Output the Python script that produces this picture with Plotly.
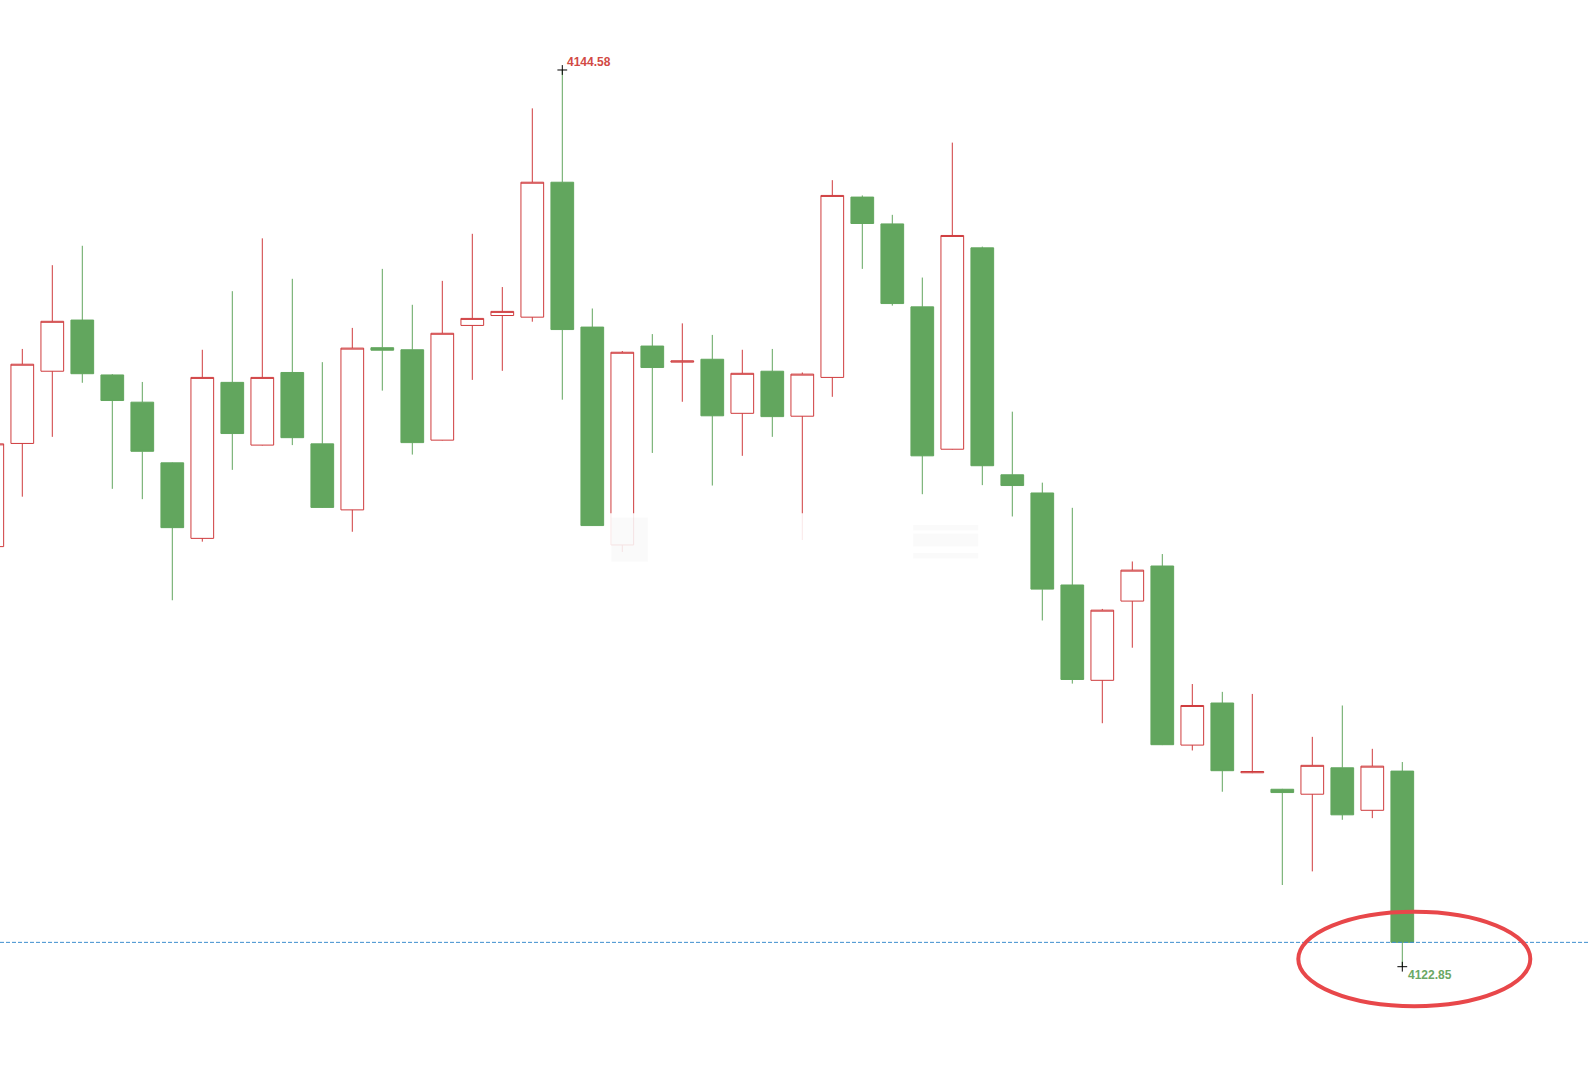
import plotly.graph_objects as go

# ---- data ----
bars = list(range(48))
opens = [4133.03, 4135.53, 4137.28, 4138.52, 4137.19, 4136.53, 4135.06, 4133.23, 4137.01, 4135.49,
         4137.25, 4135.52, 4133.92, 4137.85, 4137.80, 4135.61, 4138.39, 4138.63, 4138.59, 4141.86,
         4138.35, 4133.07, 4137.89, 4137.50, 4137.57, 4136.26, 4137.28, 4136.19, 4137.13, 4141.50,
         4140.85, 4138.84, 4135.39, 4140.27, 4134.77, 4134.33, 4132.10, 4129.79, 4131.71, 4132.56,
         4128.22, 4129.24, 4127.55, 4127.15, 4127.03, 4127.67, 4126.64, 4127.59]
highs = [4135.70, 4137.82, 4139.85, 4140.32, 4137.21, 4137.02, 4135.07, 4137.80, 4139.22, 4140.50,
         4139.52, 4137.50, 4138.33, 4139.76, 4138.89, 4139.47, 4140.61, 4139.32, 4143.65, 4144.58,
         4138.80, 4137.77, 4138.18, 4138.44, 4138.16, 4137.80, 4137.82, 4137.25, 4141.91, 4141.54,
         4141.07, 4139.55, 4142.82, 4140.30, 4136.30, 4134.58, 4133.97, 4131.52, 4132.67, 4132.85,
         4129.70, 4129.51, 4129.46, 4127.16, 4128.42, 4129.18, 4128.13, 4127.81]
lows = [4132.70, 4134.24, 4135.69, 4137.00, 4134.43, 4134.18, 4131.73, 4133.15, 4134.89, 4135.48,
        4135.49, 4133.97, 4133.39, 4136.81, 4135.26, 4135.60, 4137.07, 4137.29, 4138.48, 4136.59,
        4133.53, 4132.90, 4135.30, 4136.54, 4134.51, 4135.23, 4135.69, 4133.19, 4136.66, 4139.76,
        4138.87, 4134.30, 4135.38, 4134.52, 4133.76, 4131.24, 4129.71, 4128.75, 4130.58, 4128.22,
        4128.09, 4127.09, 4127.54, 4124.83, 4125.16, 4126.41, 4126.45, 4122.85]
closes = [4135.52, 4137.45, 4138.49, 4137.22, 4136.57, 4135.34, 4133.49, 4137.13, 4135.77, 4137.13,
          4135.67, 4133.98, 4137.84, 4137.79, 4135.55, 4138.20, 4138.56, 4138.73, 4141.86, 4138.29,
          4133.54, 4137.74, 4137.37, 4137.53, 4136.20, 4137.23, 4136.18, 4137.21, 4141.54, 4140.86,
          4138.92, 4135.23, 4140.57, 4134.99, 4134.51, 4132.00, 4129.81, 4131.49, 4132.46, 4128.23,
          4129.18, 4127.60, 4127.58, 4127.07, 4127.73, 4126.53, 4127.71, 4123.44]

RED = "#cf3b3d"
GREEN = "#62a65e"

hi_idx = max(range(len(highs)), key=lambda i: highs[i])
lo_idx = min(range(len(lows)), key=lambda i: lows[i])
last_close = closes[-1]

fig = go.Figure()
fig.add_trace(go.Candlestick(
    x=bars, open=opens, high=highs, low=lows, close=closes,
    increasing=dict(line=dict(color=RED, width=1), fillcolor="white"),
    decreasing=dict(line=dict(color=GREEN, width=1), fillcolor=GREEN),
    whiskerwidth=0, showlegend=False, hoverinfo="skip",
))

# extreme markers
fig.add_trace(go.Scatter(
    x=[bars[hi_idx], bars[lo_idx]], y=[highs[hi_idx], lows[lo_idx]],
    mode="markers",
    marker=dict(symbol="cross-thin", size=7, line=dict(color="black", width=1)),
    showlegend=False, hoverinfo="skip",
))

fig.add_annotation(x=bars[hi_idx], y=highs[hi_idx], text=f"{highs[hi_idx]:.2f}",
                   showarrow=False, xanchor="left", yanchor="middle", xshift=3, yshift=8,
                   font=dict(family="Liberation Sans, Arial", size=12, color="#d24a44", weight="bold"))
fig.add_annotation(x=bars[lo_idx], y=lows[lo_idx], text=f"{lows[lo_idx]:.2f}",
                   showarrow=False, xanchor="left", yanchor="middle", xshift=4, yshift=-8,
                   font=dict(family="Liberation Sans, Arial", size=12, color="#6aa865", weight="bold"))

# blurred watermark area (fades the wicks passing through it)
fig.add_shape(type="rect", xref="paper", yref="paper", x0=0.381, x1=0.616, y0=0.479, y1=0.524,
              line=dict(width=0), fillcolor="rgba(255,255,255,0.88)", layer="above")
fig.add_shape(type="rect", xref="paper", yref="paper", x0=0.385, x1=0.408, y0=0.479, y1=0.52,
              line=dict(width=0), fillcolor="rgba(0,0,0,0.02)", layer="above")
for y0, y1 in [(0.508, 0.513), (0.493, 0.505), (0.482, 0.487)]:
    fig.add_shape(type="rect", xref="paper", yref="paper", x0=0.575, x1=0.616, y0=y0, y1=y1,
                  line=dict(width=0), fillcolor="rgba(0,0,0,0.02)", layer="above")

# dashed line at last close
fig.add_shape(type="line", xref="paper", x0=0, x1=1, yref="y", y0=last_close, y1=last_close,
              line=dict(color="#3f8fcf", width=1, dash="4px,2px"))

# red ellipse around the low
fig.add_shape(type="circle", xref="x", yref="y",
              xsizemode="pixel", ysizemode="pixel",
              xanchor=bars[lo_idx], yanchor=lows[lo_idx],
              x0=-104, x1=128, y0=-39.5, y1=55,
              line=dict(color="#e8474a", width=4))

fig.update_layout(
    width=1588, height=1078, autosize=False,
    margin=dict(l=0, r=0, t=0, b=0),
    paper_bgcolor="white", plot_bgcolor="white",
    boxgap=0.243, boxgroupgap=0,
    xaxis=dict(visible=False, range=[0.2567, 53.19], rangeslider=dict(visible=False), fixedrange=True),
    yaxis=dict(visible=False, range=[4120.153, 4146.276], fixedrange=True),
)

fig.write_html("out.html")
